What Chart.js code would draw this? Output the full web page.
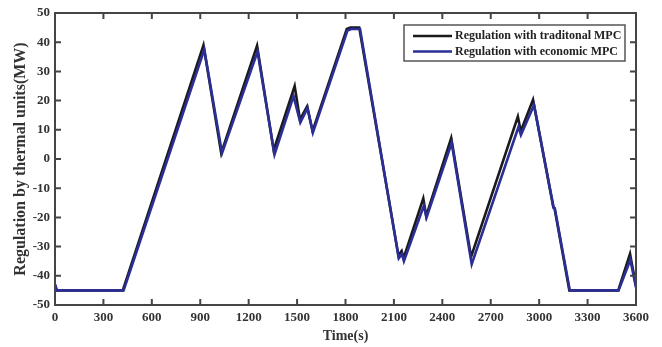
<!DOCTYPE html>
<html>
<head>
<meta charset="utf-8">
<script src="https://cdn.jsdelivr.net/npm/chart.js@4"></script>
<style>
  body { margin: 0; background: #fff; }
  #wrap { width: 662px; height: 347px; }
</style>
</head>
<body>
<div id="wrap"><canvas id="regChart"></canvas></div>
<script>
// values
const xTicks = [0, 300, 600, 900, 1200, 1500, 1800, 2100, 2400, 2700, 3000, 3300, 3600];
const yTicks = [-50, -40, -30, -20, -10, 0, 10, 20, 30, 40, 50];

const tradTime = [0, 10, 420, 920, 1030, 1252, 1355, 1485, 1518, 1562, 1596, 1808, 1830, 1885, 2128, 2148, 2160, 2282, 2300, 2455, 2578, 2868, 2886, 2962, 3088, 3095, 3187, 3490, 3563, 3600];
const tradReg  = [-43, -45, -45, 39, 2, 38.8, 3, 25, 13.5, 18, 9.5, 44.5, 45, 45, -33, -31.5, -34, -13.5, -19.5, 7.2, -33.5, 14.5, 9.5, 20.3, -16.5, -16.8, -45, -45, -32.5, -43.5];

const econTime = [0, 12, 425, 925, 1035, 1255, 1360, 1478, 1520, 1565, 1598, 1812, 1835, 1890, 2130, 2150, 2162, 2285, 2302, 2458, 2582, 2872, 2887, 2968, 3090, 3097, 3190, 3492, 3565, 3600];
const econReg  = [-43, -45, -45, 37.5, 2, 36.8, 1.5, 21.5, 12.5, 17.5, 9, 44, 44.5, 44.5, -34, -32.5, -35, -16, -20, 5.5, -36, 11, 8.2, 18.5, -16.8, -17, -45, -45, -34.5, -44];

const toPoints = (xs, ys) => xs.map((x, i) => ({ x: x, y: ys[i] }));

const serif = '"Liberation Serif", "Times New Roman", serif';
const axisColor = '#454545';

// matlab style box, inward ticks and legend
const boxPlugin = {
  id: 'boxPlugin',
  afterDraw(chart) {
    const ctx = chart.ctx;
    const a = chart.chartArea;
    const xs = chart.scales.x, ys = chart.scales.y;
    ctx.save();
    ctx.strokeStyle = axisColor;
    ctx.lineWidth = 2;
    ctx.strokeRect(a.left, a.top, a.right - a.left, a.bottom - a.top);
    ctx.beginPath();
    xTicks.forEach(v => {
      const px = xs.getPixelForValue(v);
      ctx.moveTo(px, a.bottom); ctx.lineTo(px, a.bottom - 6);
      ctx.moveTo(px, a.top); ctx.lineTo(px, a.top + 6);
    });
    yTicks.forEach(v => {
      const py = ys.getPixelForValue(v);
      ctx.moveTo(a.left, py); ctx.lineTo(a.left + 6, py);
      ctx.moveTo(a.right, py); ctx.lineTo(a.right - 6, py);
    });
    ctx.stroke();

    // legend
    const bx = 404, by = 25, bw = 221, bh = 36;
    ctx.fillStyle = '#fff';
    ctx.fillRect(bx, by, bw, bh);
    ctx.strokeStyle = '#555';
    ctx.lineWidth = 1.5;
    ctx.strokeRect(bx, by, bw, bh);
    ctx.font = 'bold 12px ' + serif;
    ctx.textBaseline = 'middle';
    ctx.fillStyle = '#222';
    chart.data.datasets.forEach((ds, i) => {
      const y = by + 11 + i * 15.5;
      ctx.strokeStyle = ds.borderColor;
      ctx.lineWidth = 2.5;
      ctx.beginPath();
      ctx.moveTo(bx + 9, y); ctx.lineTo(bx + 48, y);
      ctx.stroke();
      ctx.fillText(ds.label, bx + 51, y);
    });
    ctx.restore();
  }
};

new Chart(document.getElementById('regChart'), {
  type: 'line',
  data: {
    datasets: [
      {
        label: 'Regulation with traditonal MPC',
        data: toPoints(tradTime, tradReg),
        borderColor: '#1a1a1a',
        borderWidth: 2.6,
        pointRadius: 0,
        tension: 0,
        order: 1,
      },
      {
        label: 'Regulation with economic MPC',
        data: toPoints(econTime, econReg),
        borderColor: '#2b2f95',
        borderWidth: 2.6,
        pointRadius: 0,
        tension: 0,
        order: 0,
      },
    ],
  },
  options: {
    responsive: true,
    maintainAspectRatio: false,
    animation: false,
    layout: { padding: { top: 13, right: 26, left: 0, bottom: 0 } },
    plugins: { legend: { display: false }, tooltip: { enabled: false } },
    scales: {
      x: {
        type: 'linear',
        min: 0,
        max: 3600,
        afterBuildTicks: (s) => { s.ticks = xTicks.map(v => ({ value: v })); },
        afterFit: (s) => { s.height = 42; },
        grid: { display: false, drawTicks: false },
        border: { display: false },
        ticks: {
          color: '#333',
          padding: 5,
          maxRotation: 0,
          autoSkip: false,
          callback: (v) => String(v),
          font: { family: serif, size: 13, weight: 'bold' },
        },
        title: {
          display: true,
          text: 'Time(s)',
          color: '#333',
          padding: { top: 0, bottom: 2 },
          font: { family: serif, size: 14, weight: 'bold' },
        },
      },
      y: {
        min: -50,
        max: 50,
        afterBuildTicks: (s) => { s.ticks = yTicks.map(v => ({ value: v })); },
        afterFit: (s) => { s.width = 55; },
        grid: { display: false, drawTicks: false },
        border: { display: false },
        ticks: {
          color: '#333',
          padding: 5,
          autoSkip: false,
          callback: (v) => String(v),
          font: { family: serif, size: 13, weight: 'bold' },
        },
        title: {
          display: true,
          text: 'Regulation by thermal units(MW)',
          color: '#333',
          padding: { top: 11, bottom: 0 },
          font: { family: serif, size: 16, weight: 'bold' },
        },
      },
    },
  },
  plugins: [boxPlugin],
});
</script>
</body>
</html>
